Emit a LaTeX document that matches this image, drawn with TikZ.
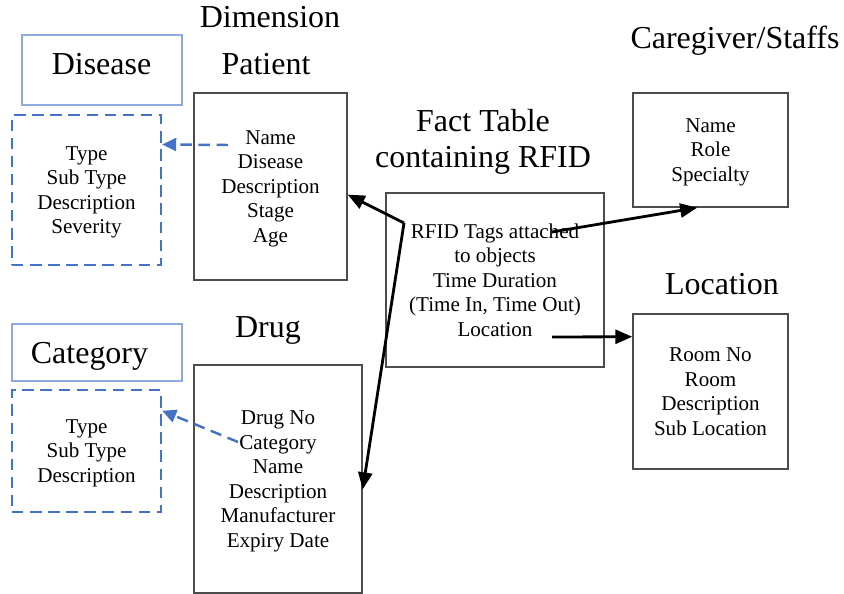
\documentclass[tikz,border=0pt]{standalone}
\usepackage{fontspec}
\setmainfont{Liberation Serif}
\usetikzlibrary{arrows.meta}

\definecolor{dimblue}{RGB}{68,114,196}
\definecolor{lightblue}{RGB}{143,170,220}

\begin{document}
\begin{tikzpicture}[x=0.02cm,y=-0.02cm,
	every node/.style={black,font=\fontsize{12}{14}\selectfont,align=center},
	head/.style={font=\fontsize{18.2}{20.8}\selectfont},
	tbox/.style={draw=black!70,line width=0.8pt,inner sep=0pt,text depth=-1pt},
	namebox/.style={draw=lightblue,line width=0.8pt,inner sep=0pt},
	attrbox/.style={draw=dimblue,line width=1.4pt,dash pattern=on 6.5pt off 3.8pt,inner sep=0pt,text depth=-1pt},
	link/.style={line width=1.6pt,-{Triangle[length=0.34cm,width=0.28cm]}},
	reflink/.style={dimblue,line width=1.4pt,dash pattern=on 6.5pt off 3.8pt,-{Triangle[length=0.28cm,width=0.26cm]}}]
	\useasboundingbox (0,0) rectangle (844,594);

	% headings
	\node[head] (dimension) at (270,17) {Dimension};
	\node[head] (patienthead) at (266,64.5) {Patient};
	\node[head] (facthead) at (483,142) {Fact Table\\containing RFID};
	\node[head] (carehead) at (735,41) {Caregiver/Staffs};
	\node[head] (lochead) at (722,284) {Location};
	\node[head] (drughead) at (268,330) {Drug};

	% sub dimensions
	\node[namebox,minimum width=3.2cm,minimum height=1.4cm] (disease) at (102,70) {};
	\node[head] (diseasetxt) at (101.5,64.5) {Disease};
	\node[attrbox,minimum width=2.98cm,minimum height=3cm] (disattr) at (86.5,190) {Type\\Sub Type\\Description\\Severity};

	\node[namebox,minimum width=3.4cm,minimum height=1.14cm] (category) at (97,352.5) {};
	\node[head] (categorytxt) at (89.5,356) {Category};
	\node[attrbox,minimum width=2.98cm,minimum height=2.44cm] (catattr) at (86.5,451) {Type\\Sub Type\\Description};

	% tables
	\node[tbox,minimum width=3.06cm,minimum height=3.74cm] (patient) at (270.5,186.5) {Name\\Disease\\Description\\Stage\\Age};
	\node[tbox,minimum width=3.36cm,minimum height=4.56cm] (drug) at (278,479) {Drug No\\Category\\Name\\Description\\Manufacturer\\Expiry Date};
	\node[tbox,minimum width=4.36cm,minimum height=3.48cm] (fact) at (495,280) {RFID Tags attached\\to objects\\Time Duration\\(Time In, Time Out)\\Location};
	\node[tbox,minimum width=3.1cm,minimum height=2.28cm] (care) at (710.5,150) {Name\\Role\\Specialty};
	\node[tbox,minimum width=3.1cm,minimum height=3.1cm] (loc) at (710.5,391.5) {Room No\\Room\\Description\\Sub Location};

	\coordinate (tagpt) at (404,223);
	\coordinate (tagend) at (552,232);
	\coordinate (locpt) at (552,337);
	\coordinate (pdis) at (228,145);
	\coordinate (dcat) at (238,442);

	\draw[link] (tagpt) -- (patient.-6);
	\draw[link] (tagpt) -- (drug.-7);
	\draw[link] (tagend) -- (care.-103);
	\draw[link] (locpt) -- (loc.145);

	\draw[reflink] (pdis) -- (disattr.31);
	\draw[reflink] (dcat) -- (catattr.28);
\end{tikzpicture}
\end{document}
